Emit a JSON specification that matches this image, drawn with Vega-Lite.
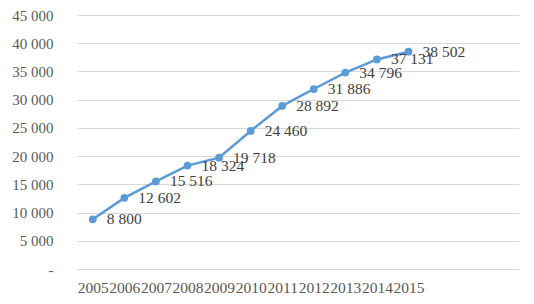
{
  "$schema": "https://vega.github.io/schema/vega-lite/v6.json",
  "width": 442,
  "height": 254,
  "autosize": {"type": "none"},
  "padding": {"left": 77, "top": 15, "right": 15, "bottom": 35},
  "background": "white",
  "config": {
    "view": {"stroke": null},
    "font": "Liberation Serif",
    "locale": {
      "number": {"decimal": ".", "thousands": " ", "grouping": [3], "currency": ["", ""]}
    }
  },
  "data": {
    "values": [
      {"year": 2005, "value": 8800},
      {"year": 2006, "value": 12602},
      {"year": 2007, "value": 15516},
      {"year": 2008, "value": 18324},
      {"year": 2009, "value": 19718},
      {"year": 2010, "value": 24460},
      {"year": 2011, "value": 28892},
      {"year": 2012, "value": 31886},
      {"year": 2013, "value": 34796},
      {"year": 2014, "value": 37131},
      {"year": 2015, "value": 38502}
    ]
  },
  "encoding": {
    "x": {
      "field": "year",
      "type": "quantitative",
      "scale": {"domain": [2004.5, 2018.5], "nice": false, "zero": false},
      "axis": {
        "title": null,
        "values": [2005, 2006, 2007, 2008, 2009, 2010, 2011, 2012, 2013, 2014, 2015],
        "format": "d",
        "grid": false,
        "domain": false,
        "ticks": false,
        "labelOverlap": false,
        "labelBound": false,
        "labelFlush": false,
        "labelFont": "Liberation Serif",
        "labelFontSize": 15.5,
        "labelColor": "#595959",
        "labelPadding": 11
      }
    },
    "y": {
      "field": "value",
      "type": "quantitative",
      "scale": {"domain": [0, 45000], "nice": false},
      "axis": {
        "title": null,
        "values": [0, 5000, 10000, 15000, 20000, 25000, 30000, 35000, 40000, 45000],
        "labelExpr": "datum.value == 0 ? '-' : format(datum.value, ',')",
        "domain": false,
        "ticks": false,
        "grid": true,
        "gridColor": "#D9D9D9",
        "gridWidth": 1,
        "labelFont": "Liberation Serif",
        "labelFontSize": 15,
        "labelColor": "#595959",
        "labelPadding": 24
      }
    }
  },
  "layer": [
    {
      "mark": {"type": "line", "color": "#5B9BD5", "strokeWidth": 2.5}
    },
    {
      "mark": {"type": "point", "filled": true, "color": "#5B9BD5", "size": 60, "opacity": 1}
    },
    {
      "mark": {"type": "text", "align": "left", "baseline": "middle", "dx": 14, "font": "Liberation Serif", "fontSize": 15.5, "color": "#404040"},
      "encoding": {
        "text": {"field": "value", "type": "quantitative", "format": ","}
      }
    }
  ]
}
